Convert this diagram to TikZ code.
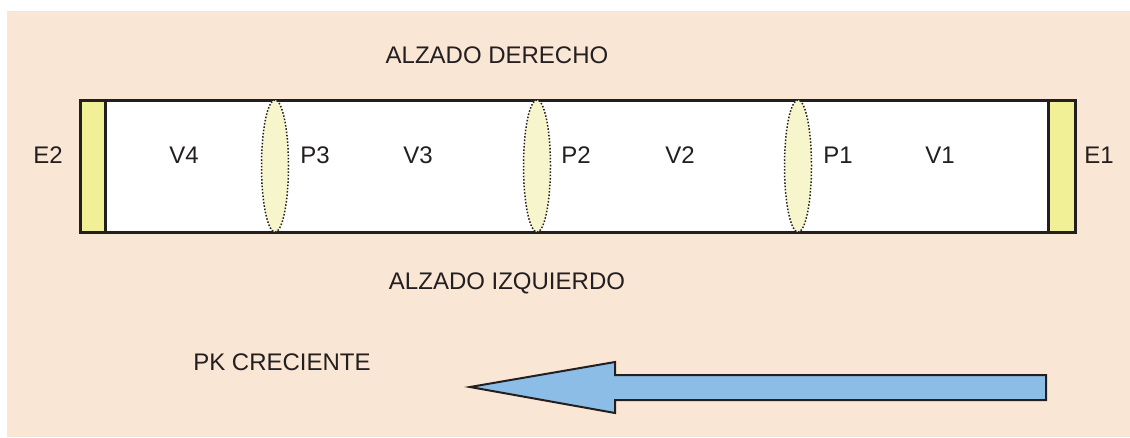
\documentclass[tikz,border=0pt]{standalone}
\usepackage{fontspec}
\setmainfont{Liberation Sans}
\usetikzlibrary{shapes.geometric}
\definecolor{bg}{HTML}{FAE6D4}
\definecolor{ink}{HTML}{231F20}
\definecolor{endyel}{HTML}{F2F096}
\definecolor{lensyel}{HTML}{F7F5CC}
\definecolor{arrblue}{HTML}{8BBDE6}
\tikzset{
  lbl/.style={font=\fontsize{24}{27}\selectfont, text=ink, inner sep=0pt},
  endbox/.style={fill=endyel, draw=ink, line width=3pt},
  lens/.style={ellipse, fill=lensyel, draw=ink, line width=1.5pt, dash pattern=on 1.5pt off 1.8pt, minimum width=27pt, minimum height=132pt, inner sep=0pt},
}
\begin{document}
\begin{tikzpicture}[x=1pt,y=-1pt]
\useasboundingbox (0,0) rectangle (1130,437);
\fill[bg] (7,11) rectangle (1130,437);
% main tube
\draw[fill=white, draw=ink, line width=3pt] (80,100) rectangle (1075,232);
\draw[endbox] (80,100) rectangle (105,232);
\draw[endbox] (1048,100) rectangle (1075,232);
% lenses
\node[lens] (p3) at (275,166) {};
\node[lens] (p2) at (537,166) {};
\node[lens] (p1) at (798,166) {};
% labels
\node[lbl] (ad) at (497,55) {ALZADO DERECHO};
\node[lbl] (ai) at (507,283) {ALZADO IZQUIERDO};
\node[lbl] (pk) at (282,362) {PK CRECIENTE};
\node[lbl] (e2) at (48,155) {E2};
\node[lbl] (e1) at (1099,155) {E1};
\node[lbl] (v4) at (184,155) {V4};
\node[lbl] (l3) at (315,155) {P3};
\node[lbl] (v3) at (418,155) {V3};
\node[lbl] (l2) at (576,155) {P2};
\node[lbl] (v2) at (680,155) {V2};
\node[lbl] (l1) at (838,155) {P1};
\node[lbl] (v1) at (940,155) {V1};
% arrow
\draw[fill=arrblue, draw=ink, line width=2pt, line join=miter]
  (1046,375) -- (615,375) -- (615,362) -- (470,387) -- (615,413) -- (615,400) -- (1046,400) -- cycle;
\end{tikzpicture}
\end{document}
